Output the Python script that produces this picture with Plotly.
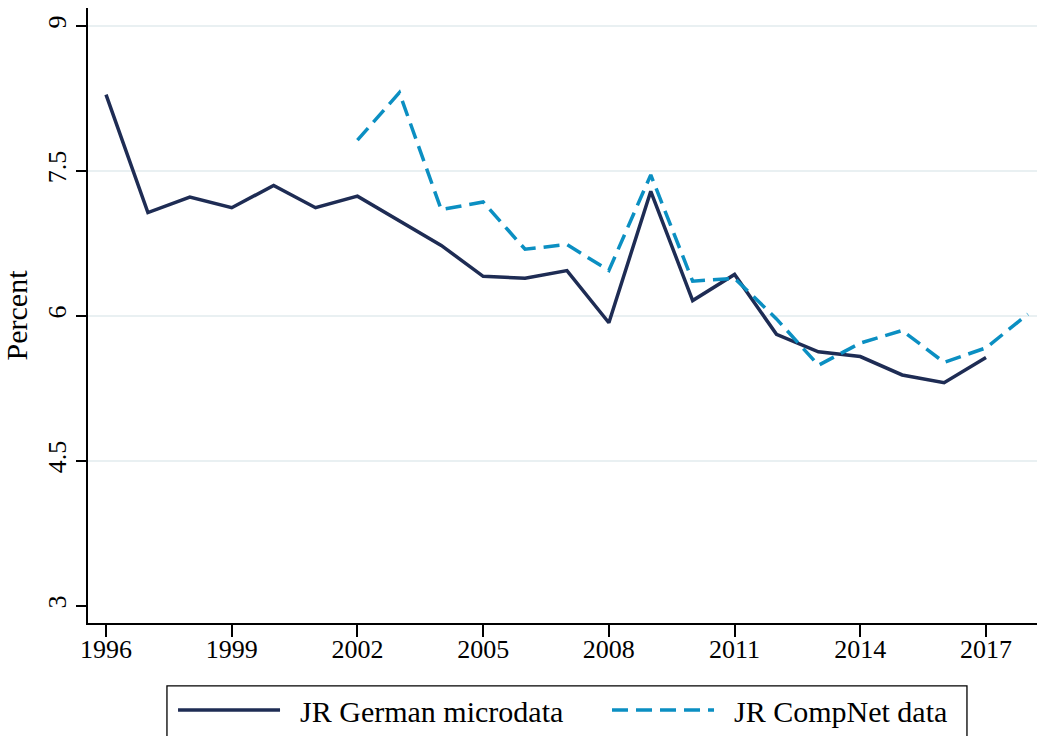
import plotly.graph_objects as go

# Annual rates, percent
years_german = list(range(1996, 2018))
german_microdata = [8.29, 7.07, 7.23, 7.12, 7.35, 7.12, 7.24, 6.99, 6.73, 6.41, 6.39,
                    6.47, 5.93, 7.29, 6.16, 6.43, 5.81, 5.63, 5.58, 5.39, 5.31, 5.57]

years_compnet = list(range(2002, 2019))
compnet_data = [7.82, 8.31, 7.10, 7.18, 6.69, 6.74, 6.47, 7.46, 6.36, 6.39, 5.97,
                5.49, 5.72, 5.85, 5.52, 5.67, 6.02]

x_ticks = [1996, 1999, 2002, 2005, 2008, 2011, 2014, 2017]
y_ticks = [3, 4.5, 6, 7.5, 9]
y_tick_labels = ["3", "4.5", "6", "7.5", "9"]

NAVY = "#1e2c54"
BLUE = "#0b8fc2"
FONT = "Liberation Serif"
NBSP = "\u00a0"

fig = go.Figure()
fig.add_trace(go.Scatter(
    x=years_german, y=german_microdata, mode="lines",
    name=NBSP * 2 + "JR German microdata", legend="legend",
    line=dict(color=NAVY, width=3.5),
))
fig.add_trace(go.Scatter(
    x=years_compnet, y=compnet_data, mode="lines",
    name=NBSP * 2 + "JR CompNet data", legend="legend2",
    line=dict(color=BLUE, width=3.5, dash="16px,8px"),
))

# Horizontal grid lines at every labelled tick above the bottom one
for v in y_ticks[1:]:
    fig.add_shape(type="line", xref="paper", yref="y", x0=0, x1=1, y0=v, y1=v,
                  line=dict(color="#e9f0f2", width=2), layer="below")

# Frame around the legend entries
fig.add_shape(type="rect", xref="paper", yref="paper",
              x0=0.0832, x1=0.9262, y0=-0.1023, y1=-0.3,
              line=dict(color="black", width=1.3), fillcolor="rgba(0,0,0,0)")

legend_common = dict(
    orientation="h", xanchor="left", yanchor="top", y=-0.100,
    itemwidth=102,
    font=dict(family=FONT, size=30, color="black"),
    bgcolor="rgba(0,0,0,0)", borderwidth=0,
)

fig.update_layout(
    width=1037, height=736,
    margin=dict(l=88, r=0, t=8, b=112),
    paper_bgcolor="white", plot_bgcolor="white",
    font=dict(family=FONT, size=26, color="black"),
    showlegend=True,
    legend=dict(x=0.0896, **legend_common),
    legend2=dict(x=0.5469, **legend_common),
    xaxis=dict(
        range=[1995.570, 2018.217], tickvals=x_ticks,
        showgrid=False, zeroline=False,
        showline=True, linecolor="black", linewidth=1.5,
        ticks="outside", ticklen=12, tickwidth=1.5, tickcolor="black",
        tickfont=dict(family=FONT, size=26), ticklabelstandoff=-10,
    ),
    yaxis=dict(
        range=[2.824, 9.186], tickvals=y_ticks, ticktext=y_tick_labels,
        tickangle=-90,
        showgrid=False, zeroline=False,
        showline=True, linecolor="black", linewidth=1.5,
        ticks="outside", ticklen=10, tickwidth=1.5, tickcolor="black",
        tickfont=dict(family=FONT, size=26),
        title=dict(text="Percent", font=dict(family=FONT, size=30), standoff=6),
    ),
)

fig.write_html("out.html")
